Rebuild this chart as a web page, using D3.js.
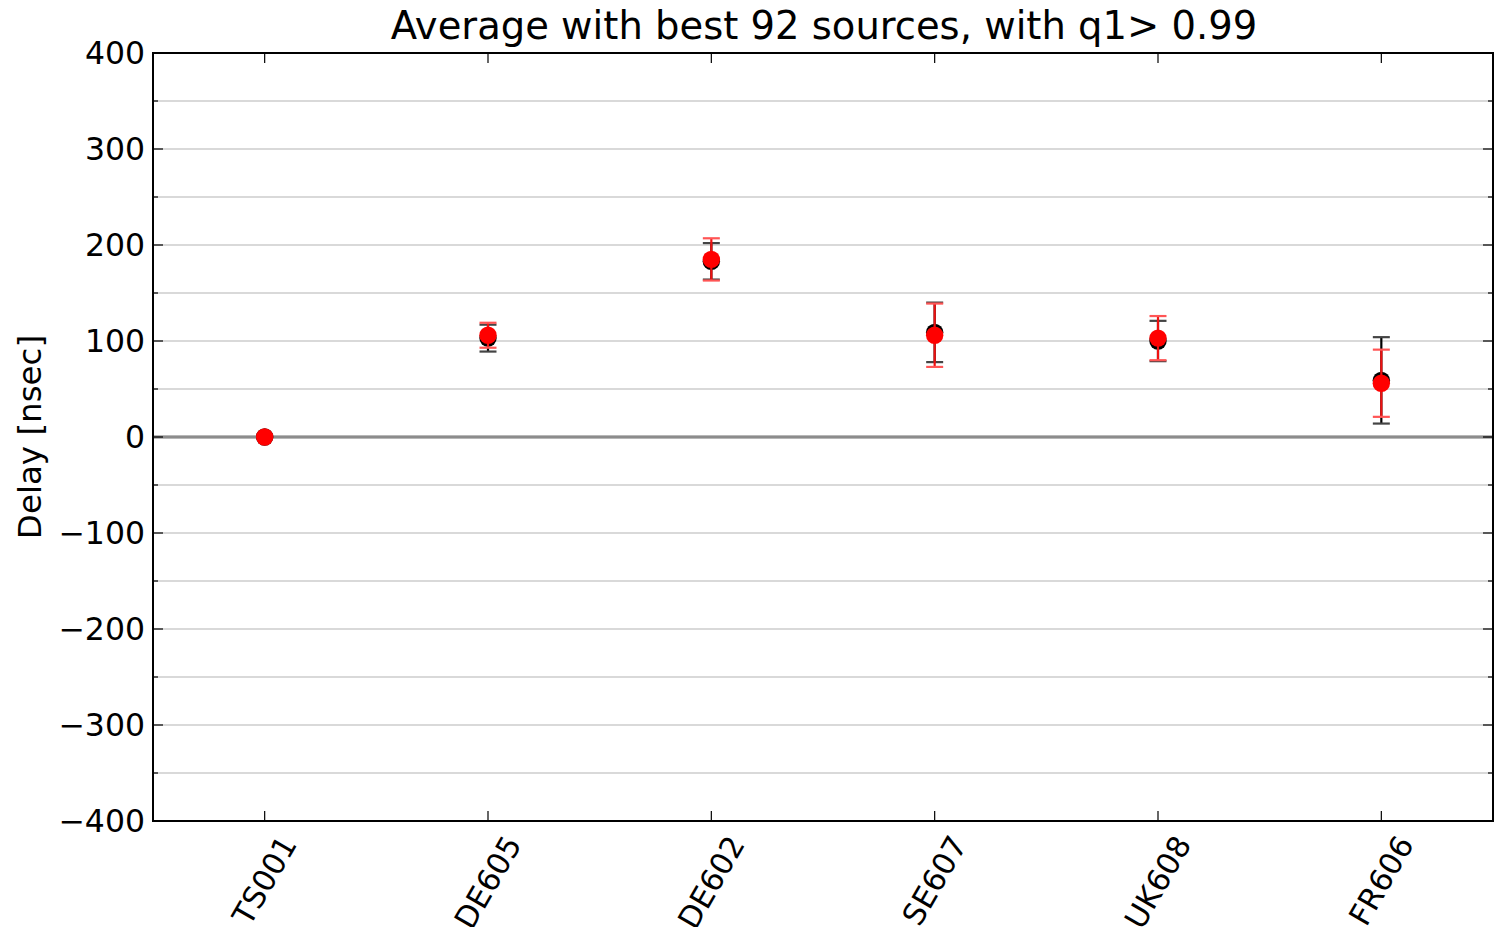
<!DOCTYPE html>
<html>
<head>
<meta charset="utf-8">
<script src="https://cdn.jsdelivr.net/npm/d3@7"></script>
<style>
  html, body { margin: 0; padding: 0; background: #fff; }
  svg { display: block; font-family: "DejaVu Sans", sans-serif; }
</style>
</head>
<body>
<svg id="chart" width="1498" height="927"></svg>
<script>
// Station names along the x axis
const stations = ["TS001", "DE605", "DE602", "SE607", "UK608", "FR606"];

// First estimate (black) : delay and its error, nsec
const blackDelay = [0, 103, 183, 109, 100, 59];
const blackErr   = [0, 14, 19, 31, 21, 45];

// Second estimate (red) : delay and its error, nsec
const redDelay = [0, 106, 185, 106, 103, 56];
const redErr   = [0, 13, 22, 33, 23, 35];

const yMajorTicks = [-400, -300, -200, -100, 0, 100, 200, 300, 400];
const yMinorTicks = [-350, -250, -150, -50, 50, 150, 250, 350];

const titleText = "Average with best 92 sources, with q1> 0.99";
const yLabelText = "Delay [nsec]";

const svg = d3.select("#chart");
const plotL = 153, plotR = 1493, plotT = 53, plotB = 821;

const x = d3.scaleLinear().domain([-0.5, stations.length - 0.5]).range([plotL, plotR]);
const y = d3.scaleLinear().domain([-400, 400]).range([plotB, plotT]);

// horizontal grid at every 50 nsec
svg.append("g").selectAll("line")
  .data(yMajorTicks.concat(yMinorTicks).filter(v => v > -400 && v < 400))
  .join("line")
  .attr("x1", plotL).attr("x2", plotR)
  .attr("y1", d => y(d)).attr("y2", d => y(d))
  .attr("stroke", "#cccccc").attr("stroke-width", 1.5);

// zero reference line
svg.append("line")
  .attr("x1", plotL).attr("x2", plotR)
  .attr("y1", y(0)).attr("y2", y(0))
  .attr("stroke", "#707070").attr("stroke-width", 3);
svg.append("line")
  .attr("x1", plotL).attr("x2", plotR)
  .attr("y1", y(0)).attr("y2", y(0))
  .attr("stroke", "#a8a8a8").attr("stroke-width", 1);

// axes: ticks pointing inward on all four sides
const fmt = d3.format("d");
const leftAxis = d3.axisLeft(y).tickValues(yMajorTicks).tickSize(0).tickPadding(8).tickFormat(fmt);
const gl = svg.append("g").attr("transform", `translate(${plotL},0)`).call(leftAxis);
gl.select(".domain").remove();
gl.selectAll("text").attr("font-size", 31.5).attr("font-family", "DejaVu Sans").attr("fill", "#000");

const tickG = svg.append("g").attr("stroke", "#000").attr("stroke-width", 1.2);
yMajorTicks.forEach(v => {
  tickG.append("line").attr("x1", plotL).attr("x2", plotL + 10).attr("y1", y(v)).attr("y2", y(v));
  tickG.append("line").attr("x1", plotR).attr("x2", plotR - 10).attr("y1", y(v)).attr("y2", y(v));
});
yMinorTicks.forEach(v => {
  tickG.append("line").attr("x1", plotL).attr("x2", plotL + 5).attr("y1", y(v)).attr("y2", y(v));
  tickG.append("line").attr("x1", plotR).attr("x2", plotR - 5).attr("y1", y(v)).attr("y2", y(v));
});
stations.forEach((s, i) => {
  tickG.append("line").attr("x1", x(i)).attr("x2", x(i)).attr("y1", plotB).attr("y2", plotB - 10);
  tickG.append("line").attr("x1", x(i)).attr("x2", x(i)).attr("y1", plotT).attr("y2", plotT + 10);
});

// station labels, rotated 60 degrees with the rotated box centred under the tick
const xl = svg.append("g");
stations.forEach((s, i) => {
  const t = xl.append("text")
    .attr("font-size", 30.5)
    .attr("text-anchor", "middle")
    .attr("dominant-baseline", "central")
    .text(s);
  const w = t.node().getComputedTextLength();
  const h = 30.5;
  const boxH = w * Math.sin(Math.PI / 3) + h * Math.cos(Math.PI / 3);
  t.attr("transform", `translate(${x(i)},${plotB + 10 + boxH / 2}) rotate(-60)`);
});

// error bars and markers for one series
function drawSeries(vals, errs, lineColor, capColor, dotColor) {
  const g = svg.append("g");
  vals.forEach((v, i) => {
    const e = errs[i];
    if (e > 0) {
      g.append("line")
        .attr("x1", x(i)).attr("x2", x(i))
        .attr("y1", y(v - e)).attr("y2", y(v + e))
        .attr("stroke", lineColor).attr("stroke-width", 2.2);
      [v - e, v + e].forEach(c => {
        g.append("line")
          .attr("x1", x(i) - 8.5).attr("x2", x(i) + 8.5)
          .attr("y1", y(c)).attr("y2", y(c))
          .attr("stroke", capColor).attr("stroke-width", 2.2);
      });
    }
  });
  g.selectAll("circle").data(vals).join("circle")
    .attr("cx", (d, i) => x(i)).attr("cy", d => y(d))
    .attr("r", 8.7).attr("fill", dotColor);
}
drawSeries(blackDelay, blackErr, "#000", "#444", "#000");
drawSeries(redDelay, redErr, "#ee1111", "#ff5555", "#ff0000");

// frame
svg.append("rect")
  .attr("x", plotL).attr("y", plotT)
  .attr("width", plotR - plotL).attr("height", plotB - plotT)
  .attr("fill", "none").attr("stroke", "#000").attr("stroke-width", 2);

// title and axis label
svg.append("text")
  .attr("x", (plotL + plotR) / 2 + 1).attr("y", 39)
  .attr("text-anchor", "middle").attr("font-size", 38.5)
  .text(titleText);

svg.append("text")
  .attr("transform", `translate(41,${(plotT + plotB) / 2}) rotate(-90)`)
  .attr("text-anchor", "middle").attr("font-size", 32.5)
  .text(yLabelText);
</script>
</body>
</html>
